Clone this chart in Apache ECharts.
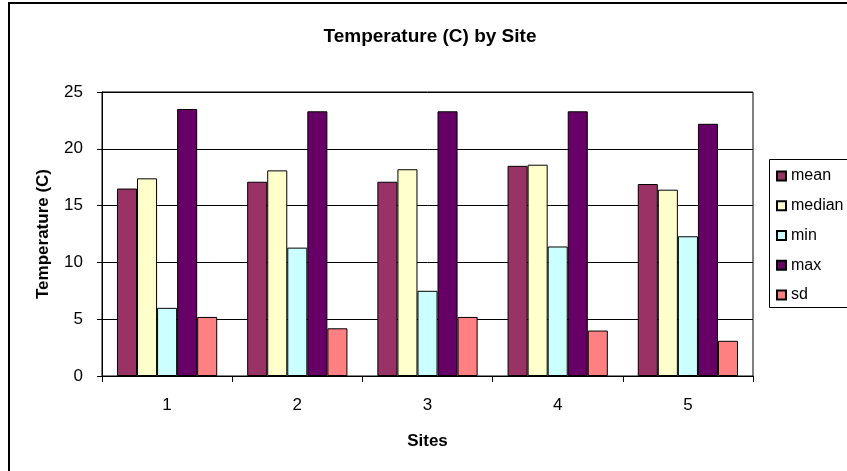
<!DOCTYPE html>
<html>
<head>
<meta charset="utf-8">
<title>Temperature (C) by Site</title>
<script src="https://cdn.jsdelivr.net/npm/echarts@6/dist/echarts.min.js"></script>
<style>
  html, body { margin: 0; padding: 0; background: #fff; }
  #chart { width: 847px; height: 471px; }
</style>
</head>
<body>
<div id="chart"></div>
<script>
// Site numbers along the x axis
const sites = ['1', '2', '3', '4', '5'];

// Summary statistics of temperature (C) per site
const meanValues   = [16.5, 17.1, 17.1, 18.5, 16.9];
const medianValues = [17.4, 18.1, 18.2, 18.6, 16.4];
const minValues    = [6.0, 11.3, 7.5, 11.4, 12.3];
const maxValues    = [23.5, 23.3, 23.3, 23.3, 22.2];
const sdValues     = [5.2, 4.2, 5.2, 4.0, 3.1];

// Value axis range and step
const yMin = 0;
const yMax = 25;
const yStep = 5;

const statSeries = [
  { name: 'mean',   data: meanValues,   color: '#993366' },
  { name: 'median', data: medianValues, color: '#FFFFCC' },
  { name: 'min',    data: minValues,    color: '#CCFFFF' },
  { name: 'max',    data: maxValues,    color: '#660066' },
  { name: 'sd',     data: sdValues,     color: '#FF8080' }
];

const FONT = '"Liberation Sans", Arial, sans-serif';

const chart = echarts.init(document.getElementById('chart'), null, { renderer: 'canvas' });

chart.setOption({
  backgroundColor: '#ffffff',
  animation: false,
  textStyle: { fontFamily: FONT, color: '#000' },
  title: {
    text: 'Temperature (C) by Site',
    left: 425,
    textAlign: 'center',
    top: 22,
    textStyle: { fontFamily: FONT, fontSize: 19, fontWeight: 'bold', color: '#000' }
  },
  grid: {
    left: 102,
    right: 94,
    top: 92,
    bottom: 95,
    show: true,
    borderColor: '#000',
    borderWidth: 1,
    backgroundColor: '#ffffff'
  },
  legend: {
    orient: 'vertical',
    left: 771,
    top: 163,
    itemWidth: 9,
    itemHeight: 9,
    itemGap: 13.75,
    icon: 'rect',
    textStyle: { fontFamily: FONT, fontSize: 16, color: '#000' },
    data: statSeries.map(s => s.name)
  },
  xAxis: {
    type: 'category',
    data: sites,
    name: 'Sites',
    nameLocation: 'middle',
    nameGap: 57,
    nameTextStyle: { fontFamily: FONT, fontSize: 17, fontWeight: 'bold', color: '#000' },
    axisLine: { lineStyle: { color: '#000', width: 1 } },
    axisTick: { show: true, alignWithLabel: false, length: 6, lineStyle: { color: '#000' } },
    axisLabel: { margin: 21, fontFamily: FONT, fontSize: 17, color: '#000' },
    splitLine: { show: false }
  },
  yAxis: {
    type: 'value',
    min: yMin,
    max: yMax,
    interval: yStep,
    name: 'Temperature (C)',
    nameLocation: 'middle',
    nameRotate: 90,
    nameGap: 50,
    nameTextStyle: { fontFamily: FONT, fontSize: 17, fontWeight: 'bold', color: '#000' },
    axisLine: { show: true, lineStyle: { color: '#000', width: 1 } },
    axisTick: { show: true, length: 5, lineStyle: { color: '#000' } },
    axisLabel: { margin: 19, fontFamily: FONT, fontSize: 17, color: '#000' },
    splitLine: { show: true, lineStyle: { color: '#000', width: 1 } }
  },
  graphic: [
    // outer chart frame
    {
      type: 'rect',
      shape: { x: 9, y: 3, width: 900, height: 520 },
      style: { fill: 'none', stroke: '#000', lineWidth: 2 },
      silent: true,
      z: 100
    },
    // legend frame
    {
      type: 'rect',
      shape: { x: 769.5, y: 159.5, width: 120, height: 148 },
      style: { fill: 'none', stroke: '#000', lineWidth: 1 },
      silent: true,
      z: 100
    }
  ],
  series: statSeries.map(s => ({
    name: s.name,
    type: 'bar',
    data: s.data,
    barGap: '0%',
    barCategoryGap: '23%',
    itemStyle: { color: s.color, borderColor: '#000', borderWidth: 1 }
  }))
});
</script>
</body>
</html>
